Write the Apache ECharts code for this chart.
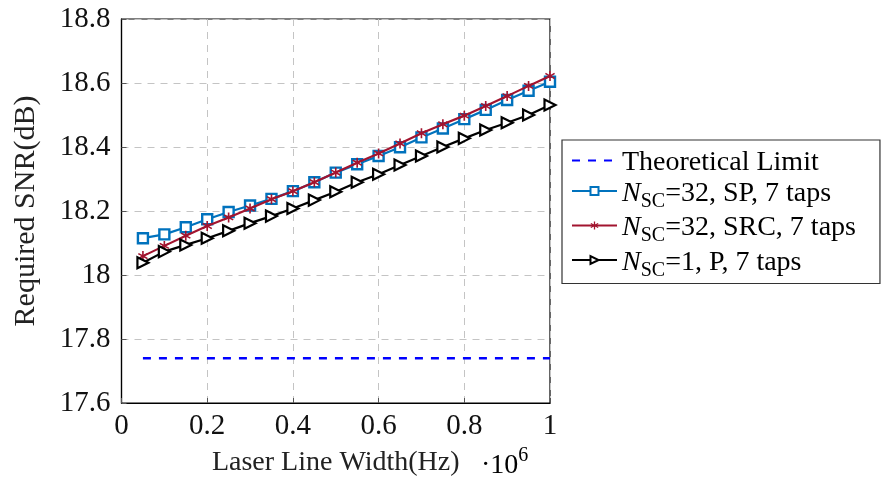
<!DOCTYPE html>
<html><head><meta charset="utf-8">
<script src="https://cdn.jsdelivr.net/npm/echarts@6/dist/echarts.min.js"></script>
<style>html,body{margin:0;padding:0;background:#fff}#c{width:887px;height:482px}</style>
</head><body><div id="c"></div>
<script>
const xValues = [0.05,0.1,0.15,0.2,0.25,0.3,0.35,0.4,0.45,0.5,0.55,0.6,0.65,0.7,0.75,0.8,0.85,0.9,0.95,1.0];
const theoreticalLimit = 17.74;
const spValues  = [18.115,18.127,18.149,18.174,18.197,18.217,18.238,18.262,18.290,18.320,18.346,18.372,18.399,18.430,18.458,18.487,18.516,18.547,18.576,18.604];
const srcValues = [18.059,18.091,18.123,18.153,18.180,18.208,18.237,18.262,18.290,18.320,18.351,18.380,18.411,18.443,18.471,18.498,18.528,18.559,18.591,18.622];
const pValues   = [18.038,18.073,18.094,18.115,18.138,18.162,18.184,18.208,18.234,18.260,18.290,18.315,18.344,18.372,18.400,18.427,18.453,18.476,18.500,18.531];
const seriesNames = ['Theoretical Limit','N_SC=32, SP, 7 taps','N_SC=32, SRC, 7 taps','N_SC=1, P, 7 taps'];
const xTicks = [0,0.2,0.4,0.6,0.8,1];
const yTicks = [17.6,17.8,18,18.2,18.4,18.6,18.8];

const FONT = '"Liberation Serif", "DejaVu Serif", serif';
const asterisk = 'path://M4.3,0 L5.7,0 L5.7,3.3 L8.6,1.6 L9.3,2.8 L6.4,4.5 L9.3,6.2 L8.6,7.4 L5.7,5.7 L5.7,9 L4.3,9 L4.3,5.7 L1.4,7.4 L0.7,6.2 L3.6,4.5 L0.7,2.8 L1.4,1.6 L4.3,3.3 Z';
const pair = (vals) => xValues.map((x,i)=>[x, vals[i]]);

const chart = echarts.init(document.getElementById('c'));
const LH = 33;
const legendRich = {
  n:{fontFamily:FONT,fontStyle:'italic',fontSize:28,color:'#000',verticalAlign:'bottom',lineHeight:LH},
  s:{fontFamily:FONT,fontSize:20,color:'#000',verticalAlign:'bottom',lineHeight:LH,padding:[0,0,-4,0]},
  t:{fontFamily:FONT,fontSize:28,color:'#000',verticalAlign:'bottom',lineHeight:LH}
};
function legendFmt(name){
  if (name.indexOf('N_SC') === 0) {
    return '{n|N}{s|SC}{t|' + name.slice(4) + '}';
  }
  return '{t|' + name + '}';
}
chart.setOption({
  animation:false,
  backgroundColor:'#fff',
  grid:{left:121.5,right:337,top:19,bottom:79,show:true,borderColor:'#000',borderWidth:1.2},
  legend:{
    orient:'vertical', left:562, top:140, width:318,
    itemWidth:45, itemHeight:10, itemGap:2.5,
    padding:[9,24,3,9],
    borderColor:'#333', borderWidth:1.2, backgroundColor:'#fff',
    formatter: legendFmt,
    textStyle:{rich:legendRich, fontFamily:FONT, fontSize:28, color:'#000'},
    data:seriesNames.map((n,i)=> i===0 ? {name:n, itemStyle:{opacity:0}} : {name:n})
  },
  xAxis:{
    type:'value', min:0, max:1, interval:0.2,
    name:'Laser Line Width(Hz)', nameLocation:'middle', nameGap:46,
    nameTextStyle:{fontFamily:FONT,fontSize:28,color:'#222'},
    axisLine:{show:true,lineStyle:{color:'#000',width:1.2}},
    axisTick:{show:true,inside:true,length:5,lineStyle:{color:'#555'}},
    axisLabel:{fontFamily:FONT,fontSize:29,color:'#111',margin:9,
      formatter:v=> (xTicks.indexOf(+v.toFixed(1))>=0 ? String(+v.toFixed(1)) : '')},
    splitLine:{show:true,lineStyle:{color:'#c4c4c4',type:[7,6],width:1}}
  },
  yAxis:{
    type:'value', min:17.6, max:18.8, interval:0.2,
    name:'Required SNR(dB)', nameLocation:'middle', nameGap:80,
    nameTextStyle:{fontFamily:FONT,fontSize:30,color:'#222'},
    axisLine:{show:true,lineStyle:{color:'#000',width:1.2}},
    axisTick:{show:true,inside:true,length:5,lineStyle:{color:'#555'}},
    axisLabel:{fontFamily:FONT,fontSize:29,color:'#111',margin:11,
      formatter:v=>{const r=Math.round(v*10)/10; return yTicks.indexOf(r)>=0 ? String(r) : '';}},
    splitLine:{show:true,lineStyle:{color:'#c4c4c4',type:[7,6],width:1}}
  },
  graphic:[{
    type:'text', left:481, top:446,
    style:{text:'{a|·10}{b|6}', rich:{
      a:{fontFamily:FONT,fontSize:28,color:'#111',verticalAlign:'bottom',lineHeight:34},
      b:{fontFamily:FONT,fontSize:20,color:'#111',verticalAlign:'bottom',lineHeight:34,padding:[0,0,14,0]}
    }}
  }],
  series:[
    {name:seriesNames[0], type:'line', data:pair(xValues.map(()=>theoreticalLimit)), showSymbol:false, symbol:'none',
     lineStyle:{color:'#0000ff',width:2.6,type:[8,8]}, itemStyle:{color:'#0000ff'}, z:3},
    {name:seriesNames[1], type:'line', data:pair(spValues), symbol:'rect', symbolSize:10,
     lineStyle:{color:'#0072BD',width:2.2}, itemStyle:{color:'#fff',borderColor:'#0072BD',borderWidth:2.4}, z:4},
    {name:seriesNames[2], type:'line', data:pair(srcValues), symbol:asterisk, symbolSize:10,
     lineStyle:{color:'#A2142F',width:2.2}, itemStyle:{color:'#A2142F'}, z:5},
    {name:seriesNames[3], type:'line', data:pair(pValues), symbol:'triangle', symbolSize:11, symbolRotate:-90,
     lineStyle:{color:'#000',width:2.2}, itemStyle:{color:'#fff',borderColor:'#000',borderWidth:2.2}, z:6}
  ]
});
</script></body></html>
